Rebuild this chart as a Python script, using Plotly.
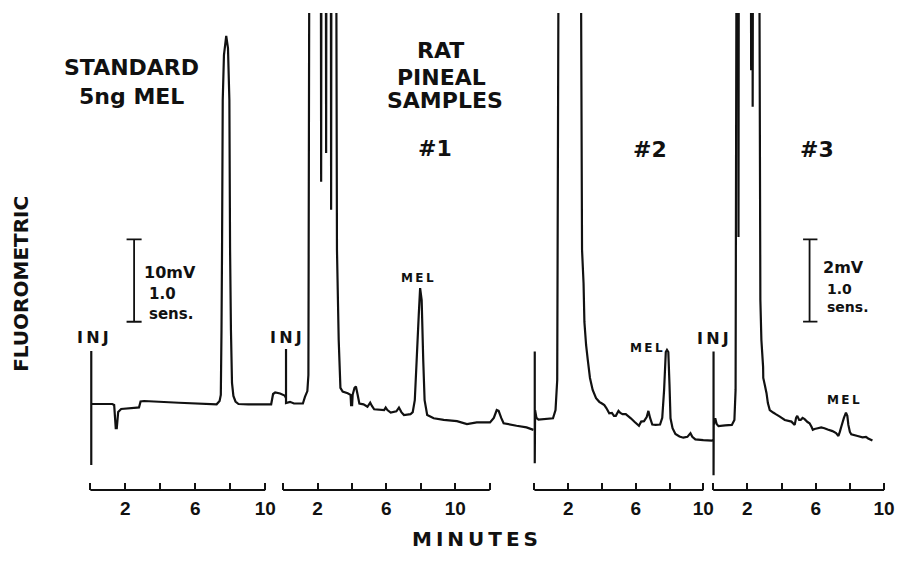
import plotly.graph_objects as go

# ---------------- data: time (minutes) and detector response (mV) ----------------
# Standard, 5 ng melatonin (10 mV full bar)
std_time = [0.05, 0.05, 0.05, 1.25, 1.36, 1.45, 1.51, 1.59, 1.76, 2.67, 2.78, 2.87, 3.07, 5.06,
            7.22, 7.39, 7.46, 7.50, 7.53, 7.57, 7.64, 7.77, 7.87, 7.95, 7.99, 8.04, 8.10, 8.18,
            8.30, 8.47, 9.03, 10.34, 10.45, 10.57, 10.85, 11.11, 11.19]
std_mv = [16.87, 3.03, 10.44, 10.44, 10.32, 7.52, 7.52, 9.47, 9.83, 9.99, 10.01, 10.74, 10.80, 10.59,
          10.40, 10.80, 11.53, 19.42, 29.13, 47.33, 52.79, 55.10, 53.64, 47.33, 29.13, 19.42, 12.99, 11.41,
          10.74, 10.44, 10.38, 10.40, 11.65, 11.83, 11.71, 11.47, 11.17]

# Rat pineal sample #1 (values above ~11.6 mV run off the chart)
s1_time = [0.17, 0.17, 0.17, 0.40, 0.63, 1.15, 1.27, 1.41, 1.47, 1.53, 2.19, 2.21, 2.23, 2.48, 2.50,
           2.52, 2.77, 2.79, 2.81, 3.08, 3.13, 3.23, 3.33, 3.46, 3.75, 3.92, 3.95, 4.01, 4.04, 4.15,
           4.23, 4.33, 4.43, 4.67, 4.90, 5.06, 5.16, 5.29, 5.87, 5.96, 6.06, 6.25, 6.58, 6.73, 6.87,
           7.02, 7.40, 7.53, 7.65, 7.76, 7.88, 7.96, 8.05, 8.14, 8.22, 8.37, 8.75, 9.33, 10.10, 10.68,
           11.25, 12.02, 12.24, 12.41, 12.52, 12.67, 12.81, 13.56, 14.14, 14.54]
s1_mv = [2.23, 3.42, 2.11, 2.14, 2.10, 2.10, 2.26, 2.40, 2.79, 14.5, 14.5, 7.48, 14.5, 14.5, 8.18,
         14.5, 14.5, 6.80, 14.5, 14.5, 5.83, 3.64, 2.48, 2.39, 2.35, 2.31, 2.06, 2.06, 2.31, 2.48,
         2.51, 2.31, 2.10, 2.08, 2.02, 2.12, 2.04, 1.96, 1.94, 2.00, 1.94, 1.88, 1.91, 2.00, 1.89,
         1.82, 1.84, 1.89, 2.18, 3.16, 4.25, 4.90, 4.61, 3.16, 2.18, 1.82, 1.74, 1.70, 1.67, 1.60,
         1.64, 1.64, 1.75, 1.94, 1.92, 1.75, 1.62, 1.56, 1.52, 1.46]

# Rat pineal sample #2
s2_time = [0.02, 0.02, 0.02, 0.04, 0.12, 0.24, 1.10, 1.25, 1.35, 1.44, 2.74, 2.82, 2.91, 2.96, 3.06,
           3.16, 3.29, 3.45, 3.65, 3.84, 4.00, 4.14, 4.26, 4.43, 4.59, 4.71, 4.82, 4.98, 5.09, 5.22,
           5.41, 5.71, 5.94, 6.19, 6.32, 6.49, 6.65, 6.75, 6.85, 6.98, 7.18, 7.44, 7.57, 7.68, 7.78,
           7.85, 7.93, 8.00, 8.06, 8.18, 8.35, 8.59, 8.82, 9.06, 9.24, 9.35, 9.53, 10.00, 10.51, 10.59]
s2_mv = [1.46, 3.36, 0.65, 1.94, 1.75, 1.71, 1.74, 1.94, 2.67, 14.5, 14.5, 5.83, 5.02, 4.08, 3.52,
         3.16, 2.72, 2.43, 2.23, 2.14, 2.10, 2.06, 1.99, 1.86, 1.87, 1.80, 1.80, 1.92, 1.87, 1.84,
         1.84, 1.74, 1.65, 1.56, 1.66, 1.67, 1.77, 1.92, 1.75, 1.59, 1.58, 1.59, 1.75, 2.43, 3.35,
         3.40, 3.35, 2.55, 1.74, 1.50, 1.36, 1.30, 1.27, 1.29, 1.38, 1.29, 1.23, 1.21, 1.20, 1.21]

# Rat pineal sample #3
s3_time = [0.02, 0.02, 0.02, 0.03, 0.12, 0.20, 0.31, 0.70, 1.09, 1.24, 1.31, 1.37, 1.47, 1.48, 1.50,
           2.20, 2.22, 2.24, 2.30, 2.31, 2.33, 2.69, 2.76, 2.82, 2.92, 2.93, 3.02, 3.12, 3.20, 3.31,
           3.51, 3.66, 3.90, 4.19, 4.58, 4.77, 4.85, 4.92, 5.03, 5.12, 5.23, 5.35, 5.52, 5.64, 5.76,
           5.83, 5.93, 6.12, 6.32, 6.51, 6.70, 6.98, 7.19, 7.33, 7.41, 7.50, 7.65, 7.77, 7.85, 7.91,
           8.00, 8.08, 8.45, 8.74, 8.94, 9.07, 9.32]
s3_mv = [1.21, 3.36, 0.36, 1.58, 1.74, 1.60, 1.55, 1.57, 1.58, 1.70, 2.43, 14.5, 14.5, 6.14, 14.5,
         14.5, 10.19, 14.5, 14.5, 9.30, 14.5, 14.5, 4.61, 3.64, 2.99, 2.72, 2.55, 2.35, 2.11, 1.94,
         1.88, 1.84, 1.78, 1.70, 1.66, 1.58, 1.75, 1.80, 1.70, 1.70, 1.75, 1.72, 1.65, 1.62, 1.53,
         1.46, 1.48, 1.50, 1.52, 1.50, 1.47, 1.43, 1.38, 1.31, 1.41, 1.54, 1.75, 1.88, 1.80, 1.58,
         1.41, 1.35, 1.31, 1.28, 1.29, 1.25, 1.20]

# calibration bars (mV)
std_bar_mv = [20.42, 30.42]      # 10 mV
smp_bar_mv = [4.085, 6.085]      # 2 mV
std_bar_time = [2.07, 2.50, 2.93]
smp_bar_time = [5.26, 5.64, 6.10]

tick_vals_10 = [0, 2, 4, 6, 8, 10]
tick_text_10 = ["", "2", "", "6", "", "10"]
tick_vals_12 = [0, 2, 4, 6, 8, 10, 12]
tick_text_12 = ["", "2", "", "6", "", "10", ""]

# ---------------- figure ----------------
W, H = 900, 563
INK = "#111111"
FONT = "DejaVu Sans"

fig = go.Figure()

traces = [
    (std_time, std_mv, "x", "y"),
    (s1_time, s1_mv, "x2", "y2"),
    (s2_time, s2_mv, "x3", "y3"),
    (s3_time, s3_mv, "x4", "y4"),
]
for t, v, xa, ya in traces:
    fig.add_trace(go.Scatter(x=t, y=v, xaxis=xa, yaxis=ya, mode="lines",
                             line=dict(color=INK, width=2.2, simplify=False),
                             hoverinfo="skip", showlegend=False))

# calibration bars
def bar_xy(times, mv):
    x0, xm, x1 = times
    lo, hi = mv
    return ([x0, x1, None, xm, xm, None, x0, x1],
            [hi, hi, None, hi, lo, None, lo, lo])

bx, by = bar_xy(std_bar_time, std_bar_mv)
fig.add_trace(go.Scatter(x=bx, y=by, xaxis="x", yaxis="y", mode="lines",
                         line=dict(color=INK, width=1.8), hoverinfo="skip", showlegend=False))
bx, by = bar_xy(smp_bar_time, smp_bar_mv)
fig.add_trace(go.Scatter(x=bx, y=by, xaxis="x4", yaxis="y4", mode="lines",
                         line=dict(color=INK, width=1.8), hoverinfo="skip", showlegend=False))

ydom = [1 - 490 / H, 1 - 13 / H]

def xax(d0, d1, rng, tv, tt, anchor):
    return dict(domain=[d0 / W, d1 / W], range=rng, anchor=anchor,
                showgrid=False, zeroline=False, showline=False,
                ticks="inside", ticklen=7, tickwidth=1.6, tickcolor=INK,
                tickvals=tv, ticktext=tt, ticklabeloverflow="allow",
                tickfont=dict(family="Liberation Sans", size=19, color=INK, weight="bold"),
                ticklabelstandoff=5, fixedrange=True)

fig.update_layout(
    width=W, height=H,
    margin=dict(l=0, r=0, t=0, b=0, pad=0),
    paper_bgcolor="white", plot_bgcolor="rgba(0,0,0,0)",
    showlegend=False,
    xaxis=xax(86, 290, [-0.284, 11.307], tick_vals_10, tick_text_10, "y"),
    xaxis2=xax(283, 540, [-0.115, 14.714], tick_vals_12, tick_text_12, "y2"),
    xaxis3=xax(536, 720, [-0.118, 10.706], tick_vals_10, tick_text_10, "y3"),
    xaxis4=xax(716, 895, [-0.116, 10.291], tick_vals_10, tick_text_10, "y4"),
    yaxis=dict(domain=ydom, range=[0, 57.89], visible=False, anchor="x", fixedrange=True),
    yaxis2=dict(domain=ydom, range=[0, 11.578], visible=False, anchor="x2", fixedrange=True),
    yaxis3=dict(domain=ydom, range=[0, 11.578], visible=False, anchor="x3", fixedrange=True),
    yaxis4=dict(domain=ydom, range=[0, 11.578], visible=False, anchor="x4", fixedrange=True),
)

# time axis base lines
for xa, ya, end in [("x", "y", 10), ("x2", "y2", 12), ("x3", "y3", 10), ("x4", "y4", 10)]:
    fig.add_shape(type="line", xref=xa, yref=ya + " domain", x0=0, x1=end, y0=0, y1=0,
                  line=dict(color=INK, width=1.8))

def ann(text, x, y, size, xref="paper", yref="paper", angle=0, family=FONT,
        xanchor="center", align="center"):
    fig.add_annotation(text=text, x=x, y=y, xref=xref, yref=yref, showarrow=False,
                       xanchor=xanchor, yanchor="middle", textangle=angle, align=align,
                       font=dict(family=family, size=size, color=INK))

def P(px, py):
    return px / W, 1 - py / H

th = "\u2009"
# titles (paper positions)
for text, (px, py), size in [
    ("<b>STANDARD</b>", (132.5, 67.5), 22),
    ("<b>5ng MEL</b>", (132.0, 96.5), 22),
    ("<b>RAT</b>", (443.3, 51), 22),
    ("<b>PINEAL</b>", (444.0, 77.5), 22),
    ("<b>SAMPLES</b>", (448.3, 100), 22),
    ("<b>#1</b>", (437.5, 148.5), 22),
    ("<b>#2</b>", (654.0, 149.5), 22),
    ("<b>#3</b>", (822.5, 149.5), 22),
]:
    x, y = P(px, py)
    ann(text, x, y, size)

x, y = P(21, 284)
ann("<b>FLUOROMETRIC</b>", x, y, 20, angle=-90)
x, y = P(478, 539)
ann("<b>" + th.join("MINUTES") + "</b>", x, y, 20)

# labels attached to the traces (data coordinates)
inj = "<b>" + th.join("INJ") + "</b>"
mel = "<b>" + th.join("MEL") + "</b>"
ann(inj, 0.13, 18.45, 16, "x", "y")
ann(inj, 0.19, 3.69, 16, "x2", "y2")
ann(inj, -0.24, 3.68, 16, "x3", "y3")
ann(inj, -0.03, 3.68, 16, "x4", "y4")
ann(mel, 7.79, 5.15, 12, "x2", "y2")
ann(mel, 6.65, 3.44, 12, "x3", "y3")
ann(mel, 7.60, 2.18, 12, "x4", "y4")

ann("<b>10mV</b>", 2.97, 26.4, 16, "x", "y", xanchor="left")
ann("<b>1.0</b><br><b>sens.</b>", 3.25, 22.6, 15, "x", "y", xanchor="left", align="left")
ann("<b>2mV</b>", 6.30, 5.40, 16, "x4", "y4", xanchor="left")
ann("<b>1.0</b><br><b>sens.</b>", 6.52, 4.66, 14, "x4", "y4", xanchor="left", align="left")

fig.write_html("out.html", config={"displayModeBar": False},
               post_script="document.body.style.margin='0px';")
